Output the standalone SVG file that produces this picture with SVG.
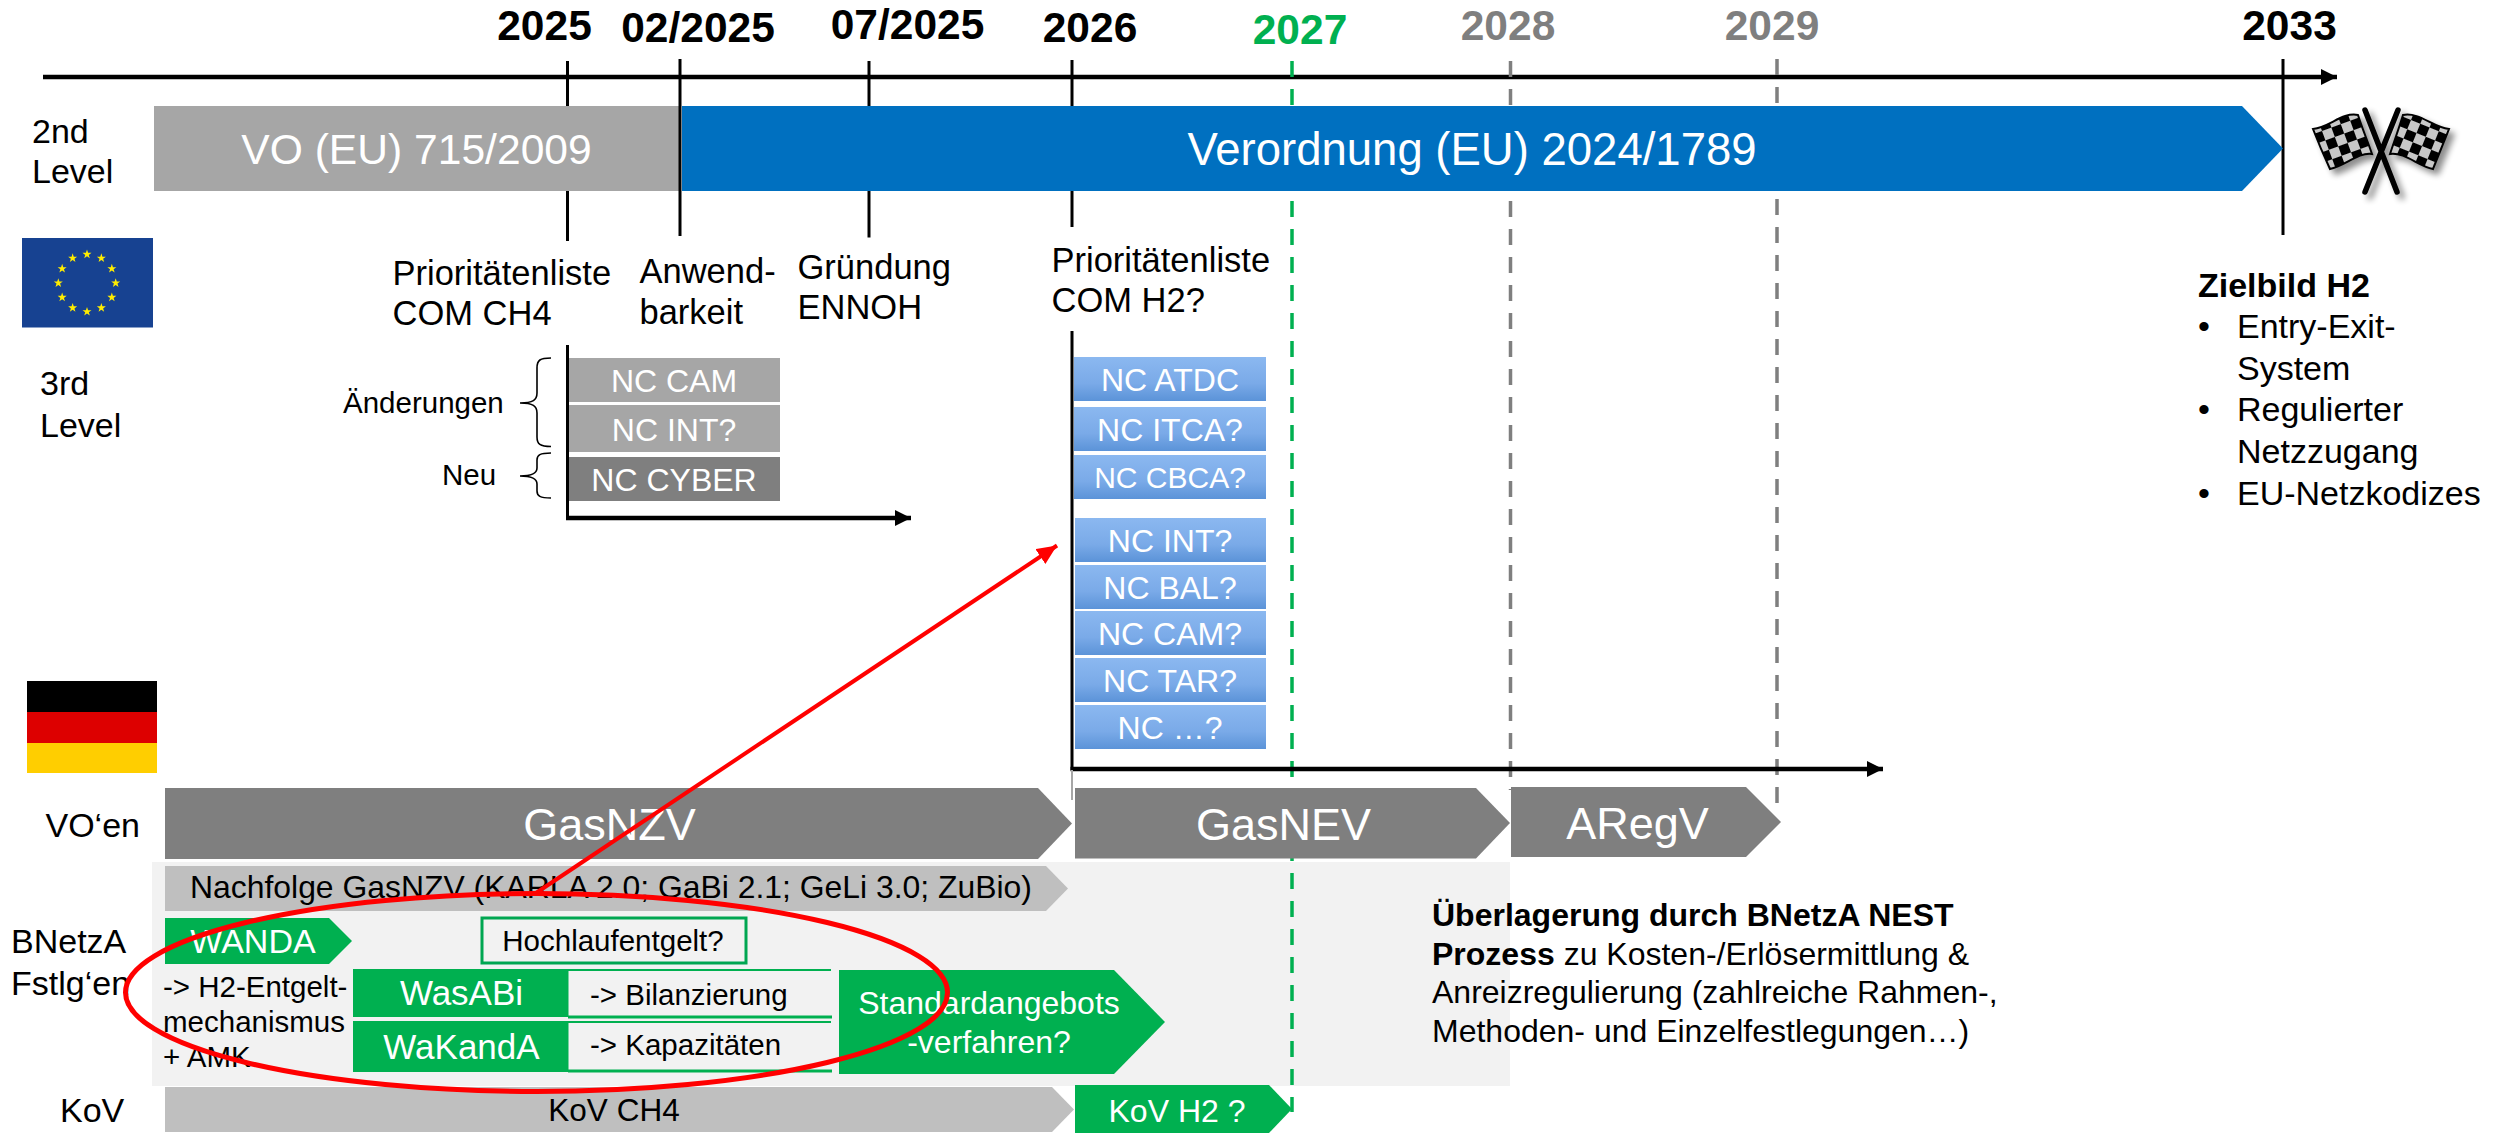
<svg xmlns="http://www.w3.org/2000/svg" width="2499" height="1133" viewBox="0 0 2499 1133">
<style>
text{font-family:"Liberation Sans",Arial,sans-serif;fill:#000}
.yr{font-size:42.500px;font-weight:700;text-anchor:middle}
.lbl{font-size:34px}
.ms{font-size:34.500px}
.w{fill:#fff}
.c{text-anchor:middle}
.nc{font-size:32px;fill:#fff;text-anchor:middle}
.sm{font-size:29.500px}
.v{stroke:#000;stroke-width:3;fill:none}
.dg{stroke:#00b050;stroke-width:3.500;stroke-dasharray:16 12;fill:none}
.dy{stroke:#7f7f7f;stroke-width:3.500;stroke-dasharray:16 12;fill:none}
.ax{stroke:#000;stroke-width:4.500;fill:none}
.gl{stroke:#00b050;fill:none}
.g{fill:#00b050}
.lg{fill:#bfbfbf}
.dk{fill:#7f7f7f}
.bl{fill:url(#blue)}
</style>
<defs>
<linearGradient id="blue" x1="0" y1="0" x2="0" y2="1"><stop offset="0" stop-color="#8bb8f0"/><stop offset="0.6" stop-color="#7aaae8"/><stop offset="1" stop-color="#5b93d8"/></linearGradient>
<marker id="ah" markerUnits="userSpaceOnUse" markerWidth="18" markerHeight="18" refX="16" refY="8" orient="auto"><path d="M0,0L16,8L0,16Z" fill="#000"/></marker>
<marker id="rh" markerUnits="userSpaceOnUse" markerWidth="24" markerHeight="20" refX="20" refY="9" orient="auto"><path d="M0,0L20,9L0,18Z" fill="#f00"/></marker>
<polygon id="star" points="0,-4.800 1.100,-1.500 4.500,-1.500 1.800,0.600 2.800,3.900 0,1.900 -2.800,3.900 -1.800,0.600 -4.500,-1.500 -1.100,-1.500" fill="#ffed00"/>
<pattern id="chk" patternUnits="userSpaceOnUse" width="20" height="20" patternTransform="translate(2322,131) rotate(-20)"><rect width="20" height="20" fill="#000"/><rect width="10" height="10" fill="#c8c8c8"/><rect x="10" y="10" width="10" height="10" fill="#c8c8c8"/></pattern>
<pattern id="chk2" patternUnits="userSpaceOnUse" width="20" height="20" patternTransform="translate(2411,120) rotate(22)"><rect width="20" height="20" fill="#000"/><rect width="10" height="10" fill="#c8c8c8"/><rect x="10" y="10" width="10" height="10" fill="#c8c8c8"/></pattern>
<filter id="sh" x="-30%" y="-30%" width="160%" height="160%"><feGaussianBlur in="SourceAlpha" stdDeviation="3"/><feOffset dx="5" dy="5"/><feComponentTransfer><feFuncA type="linear" slope="0.45"/></feComponentTransfer><feMerge><feMergeNode/><feMergeNode in="SourceGraphic"/></feMerge></filter>
</defs>
<rect width="2499" height="1133" fill="#fff"/>

<rect id="bnetza-background" x="152" y="862" width="1358" height="224" fill="#f2f2f2"/>

<g id="timeline">
<path class="ax" d="M43,77H2337" marker-end="url(#ah)"/>
<path class="v" d="M567.500,61V241"/>
<path class="v" d="M869,61V237.500"/>
<path class="v" d="M1072,60V227"/>
<path class="v" d="M2283,59V235"/>
<path class="dg" d="M1292,61V1112"/>
<path class="dy" d="M1510.500,61V790"/>
<path class="dy" d="M1777,59V803"/>
<path class="v" d="M567.500,345V518"/>
<path class="ax" d="M566,518H911" marker-end="url(#ah)"/>
<path class="v" d="M1072,331V770"/>
<path class="ax" d="M1070.500,769H1883" marker-end="url(#ah)"/>
<path d="M1072,770V800" stroke="#a6a6a6" stroke-width="2" fill="none"/>
</g>

<g id="years">
<text class="yr" x="544.500" y="40">2025</text>
<text class="yr" x="698" y="41.500">02/2025</text>
<text class="yr" x="907.500" y="38.500">07/2025</text>
<text class="yr" x="1090" y="41.500">2026</text>
<text class="yr" x="1300" y="43.500" style="fill:#00b050">2027</text>
<text class="yr" x="1508" y="40" style="fill:#7f7f7f">2028</text>
<text class="yr" x="1772" y="40" style="fill:#7f7f7f">2029</text>
<text class="yr" x="2289.500" y="40">2033</text>
</g>

<g id="row-labels">
<text class="lbl" x="32" y="143">2nd</text><text class="lbl" x="32" y="183">Level</text>
<text class="lbl" x="40" y="395">3rd</text><text class="lbl" x="40" y="437">Level</text>
<text class="lbl" x="45.500" y="837">VO‘en</text>
<text class="lbl" x="11" y="953">BNetzA</text><text class="lbl" x="11" y="995">Fstlg‘en</text>
<text class="lbl" x="60" y="1122">KoV</text>
</g>

<g id="vo-715"><rect x="154" y="106" width="526" height="85" fill="#a6a6a6"/><text class="c w" x="416.500" y="164" font-size="42.600">VO (EU) 715/2009</text></g>
<g id="vo-2024"><polygon points="682,106 2242,106 2283,148.500 2242,191 682,191" fill="#0070c0"/><text class="c w" x="1472" y="165" font-size="45.500">Verordnung (EU) 2024/1789</text></g>
<path id="line-0225" class="v" d="M680,59V236"/>

<g id="flag-eu">
<rect x="22" y="238" width="131" height="89.500" fill="#174291"/>
<use href="#star" x="87" y="254.300"/><use href="#star" x="101.350" y="258.150"/><use href="#star" x="111.850" y="268.650"/><use href="#star" x="115.700" y="283"/><use href="#star" x="111.850" y="297.350"/><use href="#star" x="101.350" y="307.850"/><use href="#star" x="87" y="311.700"/><use href="#star" x="72.650" y="307.850"/><use href="#star" x="62.150" y="297.350"/><use href="#star" x="58.300" y="283"/><use href="#star" x="62.150" y="268.650"/><use href="#star" x="72.650" y="258.150"/>
</g>
<g id="flag-de"><rect x="27" y="681" width="130" height="31" fill="#000"/><rect x="27" y="712" width="130" height="31" fill="#dd0000"/><rect x="27" y="743" width="130" height="30" fill="#ffce00"/></g>

<g id="flag-finish" filter="url(#sh)">
<path d="M2313,129C2330,127 2342,112 2358,115C2362,128 2368,142 2372,154C2358,152 2345,166 2330,169C2324,156 2318,142 2313,129Z" fill="url(#chk)" stroke="#000" stroke-width="2"/>
<path d="M2403,115C2420,112 2432,127 2449,129C2444,142 2438,156 2433,169C2418,166 2405,152 2390,154C2394,142 2399,128 2403,115Z" fill="url(#chk2)" stroke="#000" stroke-width="2"/>
<path d="M2365,110L2397,192M2398,110L2365,192" stroke="#000" stroke-width="5.500" stroke-linecap="round" fill="none"/>
</g>

<g id="milestones">
<text class="ms" x="392.500" y="284.600">Prioritätenliste</text><text class="ms" x="392.500" y="325">COM CH4</text>
<text class="ms" x="639.500" y="283">Anwend-</text><text class="ms" x="639.500" y="324">barkeit</text>
<text class="ms" x="797.500" y="278.500">Gründung</text><text class="ms" x="797.500" y="319">ENNOH</text>
<text class="ms" x="1051.500" y="271.500">Prioritätenliste</text><text class="ms" x="1051.500" y="312">COM H2?</text>
</g>

<g id="braces">
<text class="sm" x="343" y="412.500">Änderungen</text>
<text class="sm" x="442" y="485">Neu</text>
<path d="M551,358C540,358 537,360 537,368V393C537,400 533,403 520,403C533,403 537,406 537,413V437C537,444 540,446.500 551,446.500" fill="none" stroke="#000" stroke-width="1.600"/>
<path d="M551,453C540,453 537,455 537,460V468C537,473 533,476 520,476C533,476 537,479 537,484V491C537,496 540,498 551,498" fill="none" stroke="#000" stroke-width="1.600"/>
</g>

<g id="nc-cam"><rect x="569" y="358" width="211" height="44" fill="#a6a6a6"/><text class="nc" x="674" y="392">NC CAM</text></g>
<g id="nc-int"><rect x="569" y="405" width="211" height="47" fill="#a6a6a6"/><text class="nc" x="674" y="441">NC INT?</text></g>
<g id="nc-cyber"><rect x="569" y="457" width="211" height="44" class="dk"/><text class="nc" x="674" y="491">NC CYBER</text></g>

<g id="nc-atdc"><rect class="bl" x="1074" y="357" width="192" height="44"/><text class="nc" x="1170" y="391">NC ATDC</text></g>
<g id="nc-itca"><rect class="bl" x="1074" y="407" width="192" height="44"/><text class="nc" x="1170" y="441">NC ITCA?</text></g>
<g id="nc-cbca"><rect class="bl" x="1074" y="455" width="192" height="44"/><text class="nc" x="1170" y="487.500" style="font-size:30px">NC CBCA?</text></g>
<g id="nc-int-h2"><rect class="bl" x="1075" y="518" width="191" height="44"/><text class="nc" x="1170" y="552">NC INT?</text></g>
<g id="nc-bal"><rect class="bl" x="1075" y="565" width="191" height="44"/><text class="nc" x="1170" y="599">NC BAL?</text></g>
<g id="nc-cam-h2"><rect class="bl" x="1075" y="611" width="191" height="44"/><text class="nc" x="1170" y="645">NC CAM?</text></g>
<g id="nc-tar"><rect class="bl" x="1075" y="658" width="191" height="44"/><text class="nc" x="1170" y="692">NC TAR?</text></g>
<g id="nc-etc"><rect class="bl" x="1075" y="705" width="191" height="44"/><text class="nc" x="1170" y="739">NC …?</text></g>

<g id="gasnzv"><polygon class="dk" points="165,788 1038,788 1072,823.500 1038,859 165,859"/><text class="c w" x="609.500" y="840" font-size="45">GasNZV</text></g>
<g id="gasnev"><polygon class="dk" points="1075,788 1476,788 1510,823 1476,858.500 1075,858.500"/><text class="c w" x="1283.500" y="840" font-size="45">GasNEV</text></g>
<g id="aregv"><polygon class="dk" points="1511,787 1746,787 1781,822 1746,857 1511,857"/><text class="c w" x="1637.500" y="839" font-size="45">ARegV</text></g>

<g id="nachfolge"><polygon class="lg" points="165,866 1046,866 1068,888.500 1046,911 165,911"/><text x="190" y="898" font-size="31.900">Nachfolge GasNZV (KARLA 2.0; GaBi 2.1; GeLi 3.0; ZuBio)</text></g>
<g id="wanda"><polygon class="g" points="165,918 329,918 352,941 329,964 165,964"/><text class="c w" x="253" y="953" font-size="34">WANDA</text></g>
<g id="hochlauf"><rect x="482" y="918" width="264" height="45" fill="#f2f2f2" stroke="#00a651" stroke-width="3"/><text class="c" x="613" y="951" font-size="29.500">Hochlaufentgelt?</text></g>
<g id="h2-entgelt"><text class="sm" x="163" y="997">-&gt; H2-Entgelt-</text><text class="sm" x="163" y="1032">mechanismus</text><text class="sm" x="163" y="1067">+ AMK</text></g>
<g id="wasabi"><rect class="g" x="353" y="969" width="215.500" height="48"/><text class="c w" x="461.500" y="1005" font-size="35">WasABi</text></g>
<g id="wakanda"><rect class="g" x="353" y="1021" width="215.500" height="51"/><text class="c w" x="461.500" y="1059" font-size="35">WaKandA</text></g>
<g id="bilanzierung"><path class="gl" stroke-width="2" d="M568,970H831"/><path class="gl" stroke-width="3" d="M568,1017H832"/><text class="sm" x="590" y="1005">-&gt; Bilanzierung</text></g>
<g id="kapazitaeten"><path class="gl" stroke-width="2" d="M568,1022H831"/><path class="gl" stroke-width="3" d="M568,1071H832"/><text class="sm" x="590" y="1055">-&gt; Kapazitäten</text></g>
<g id="standardangebot"><polygon class="g" points="839,970 1114,970 1165,1022 1114,1074 839,1074"/><text class="c w" x="989" y="1014" font-size="32">Standardangebots</text><text class="c w" x="989" y="1053" font-size="32">-verfahren?</text></g>
<g id="kov-ch4"><polygon class="lg" points="165,1087 1052,1087 1074,1109.500 1052,1132 165,1132"/><text class="c" x="614" y="1121" font-size="31.500">KoV CH4</text></g>
<g id="kov-h2"><polygon class="g" points="1075,1085 1269,1085 1292,1109 1269,1133 1075,1133"/><text class="c w" x="1177" y="1122" font-size="32">KoV H2 ?</text></g>

<g id="nest-note">
<text x="1432" y="926" font-size="32" font-weight="700">Überlagerung durch BNetzA NEST</text>
<text x="1432" y="965" font-size="32"><tspan font-weight="700">Prozess</tspan> zu Kosten-/Erlösermittlung &amp;</text>
<text x="1432" y="1003" font-size="32">Anreizregulierung (zahlreiche Rahmen-,</text>
<text x="1432" y="1042" font-size="32">Methoden- und Einzelfestlegungen…)</text>
</g>

<g id="zielbild">
<text class="lbl" x="2198" y="297" font-weight="700">Zielbild H2</text>
<text class="lbl" x="2198" y="337.500">•</text><text class="lbl" x="2237" y="337.500">Entry-Exit-</text>
<text class="lbl" x="2237" y="380">System</text>
<text class="lbl" x="2198" y="421">•</text><text class="lbl" x="2237" y="421">Regulierter</text>
<text class="lbl" x="2237" y="462.500">Netzzugang</text>
<text class="lbl" x="2198" y="505">•</text><text class="lbl" x="2237" y="505">EU-Netzkodizes</text>
</g>

<g id="connectors">
<ellipse cx="536.500" cy="992.500" rx="411" ry="99" fill="none" stroke="#f00" stroke-width="5"/>
<path d="M536,893L1057,545.500" stroke="#f00" stroke-width="4" fill="none" marker-end="url(#rh)"/>
</g>
</svg>
